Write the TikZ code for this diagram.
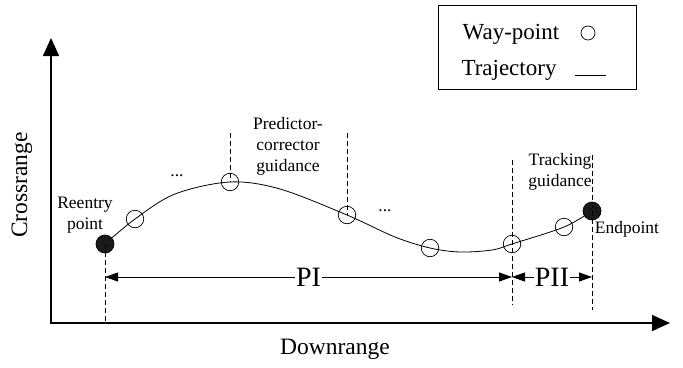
\documentclass[tikz,border=0pt]{standalone}
\usepackage{fontspec}
\setmainfont{Liberation Serif}
\usetikzlibrary{arrows.meta}
\begin{document}
\begin{tikzpicture}[x=1pt,y=-1pt,
  axisline/.style={line width=1.6pt,{Triangle[length=18pt,width=16pt]}-{Triangle[length=18pt,width=16pt]}},
  wp/.style={circle,draw,line width=0.7pt,minimum size=17.5pt,inner sep=0pt},
  endpt/.style={circle,draw,fill=black!90,line width=0.7pt,minimum size=18pt,inner sep=0pt},
  guide/.style={dashed,dash pattern=on 5pt off 3pt,line width=0.7pt},
  dimline/.style={line width=0.8pt,{Triangle[length=13pt,width=9pt]}-{Triangle[length=13pt,width=9pt]}},
  lbl/.style={font=\fontsize{17.5}{21}\selectfont,align=center,inner sep=0pt},
  biglbl/.style={font=\fontsize{23.5}{26}\selectfont,inner sep=0pt},
  phase/.style={font=\fontsize{28}{30}\selectfont,fill=white,inner sep=1pt}
]
\useasboundingbox (0,0) rectangle (683,367);

% axes
\coordinate (ytip) at (51,38);
\coordinate (O) at (51,323);
\coordinate (xtip) at (670,323);
\draw[axisline] (ytip) -- (O) -- (xtip);
\node[biglbl,rotate=90] (ylab) at (22,185) {Crossrange};
\node[biglbl] (xlab) at (335,349) {Downrange};

% trajectory
\draw[line width=0.8pt] plot[smooth,tension=0.55] coordinates {
  (105,244) (135,219) (175,194) (230,182) (280,189) (347,215)
  (395,237) (430,248) (460,252) (492,250) (512,244) (564,227) (592,211)};

% points
\node[endpt] (re) at (105,244) {};
\node[wp] (w1) at (135,219) {};
\node[wp] (w2) at (230,182) {};
\node[wp] (w3) at (347,215) {};
\node[wp] (w4) at (430,248) {};
\node[wp] (w5) at (512,244) {};
\node[wp] (w6) at (564,227) {};
\node[endpt] (ep) at (592,211) {};

% dashed guide lines
\coordinate (reB) at (105,322);
\coordinate (w2T) at (230,133);
\coordinate (w3T) at (347,133);
\coordinate (w5T) at (512,160);
\coordinate (w5B) at (512,305);
\coordinate (epT) at (592,155);
\coordinate (epB) at (592,310);
\draw[guide] (re.center) -- (reB);
\draw[guide] (w2T) -- (w2.center);
\draw[guide] (w3T) -- (w3.center);
\draw[guide] (w5T) -- (w5B);
\draw[guide] (epT) -- (epB);

% phase dimension lines
\coordinate (d0) at (105,277);
\coordinate (d1) at (512,277);
\coordinate (d2) at (592,277);
\draw[dimline] (d0) -- node[phase] (pi) {PI} (d1);
\draw[dimline] (d1) -- node[phase] (pii) {PII} (d2);

% labels
\node[lbl] (reL) at (85,215) {Reentry\\point};
\node[lbl] (dots1) at (177,176) {...};
\node[lbl] (dots2) at (385,211) {...};
\node[lbl] (pcL) at (288,146) {Predictor-\\corrector\\guidance};
\node[lbl] (trL) at (560,172) {Tracking\\guidance};
\node[lbl] (epL) at (627,229) {Endpoint};

% legend
\node[draw,line width=0.8pt,minimum width=198pt,minimum height=84pt,inner sep=0pt] (leg) at (537,47) {};
\node[biglbl,font=\fontsize{23}{26}\selectfont] (lwp) at (511,34) {Way-point};
\node[circle,draw,line width=0.7pt,minimum size=14pt,inner sep=0pt] (lcirc) at (588,33) {};
\node[biglbl,font=\fontsize{23}{26}\selectfont] (ltr) at (509,70) {Trajectory};
\coordinate (lt1) at (575,75);
\coordinate (lt2) at (606,75);
\draw[line width=0.8pt] (lt1) -- (lt2);
\end{tikzpicture}
\end{document}
